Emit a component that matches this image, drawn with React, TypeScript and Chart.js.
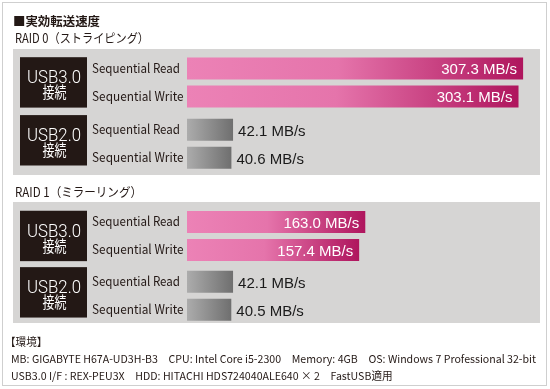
import React, { useEffect, useRef } from 'react';
import { Chart, registerables } from 'chart.js';

Chart.register(...registerables);

// ---------- data ----------
const CONNECTIONS = ['USB3.0', 'USB2.0'];
const CONNECTION_SUFFIX = '接続';
const TEST_NAMES = ['Sequential Read', 'Sequential Write'];
const RAID0_READ = [307.3, 42.1];
const RAID0_WRITE = [303.1, 40.6];
const RAID1_READ = [163.0, 42.1];
const RAID1_WRITE = [157.4, 40.5];
const X_MIN = 0;
const X_MAX = 320;
const UNIT = 'MB/s';
const TITLE = '■実効転送速度';
const RAID0_TITLE = 'RAID 0（ストライピング）';
const RAID1_TITLE = 'RAID 1（ミラーリング）';
const ENV_TITLE = '【環境】';
const ENV_LINE1 = 'MB: GIGABYTE H67A-UD3H-B3　CPU: Intel Core i5-2300　Memory: 4GB　OS: Windows 7 Professional 32-bit';
const ENV_LINE2 = 'USB3.0 I/F : REX-PEU3X　HDD: HITACHI HDS724040ALE640 × 2　FastUSB適用';

// ---------- styles ----------
const W = 550;
const H = 389;
const JP = '"Noto Sans CJK JP", "Noto Sans", sans-serif';
const SANS = '"Liberation Sans", Arial, sans-serif';
const INK = '#231815';
const PANEL = '#d6d5d4';
const TEST_LABEL_WIDTHS = [88, 91.5];

function txt(ctx: CanvasRenderingContext2D, s: string, x: number, y: number, font: string, color: string,
  align: CanvasTextAlign = 'left', scaleX = 1, baseline: CanvasTextBaseline = 'middle') {
  ctx.save();
  ctx.font = font;
  ctx.fillStyle = color;
  ctx.textAlign = align;
  ctx.textBaseline = baseline;
  ctx.translate(x, y);
  ctx.scale(scaleX, 1);
  ctx.fillText(s, 0, 0);
  ctx.restore();
}

function fit(ctx: CanvasRenderingContext2D, s: string, font: string, width: number) {
  ctx.save();
  ctx.font = font;
  const w = ctx.measureText(s).width;
  ctx.restore();
  return w ? width / w : 1;
}

function barFill(c: any) {
  const chart = c.chart;
  const xs = chart.scales && chart.scales.x;
  const v = c.raw;
  const usb3 = c.dataIndex === 0;
  if (!xs || !chart.chartArea || typeof v !== 'number') return usb3 ? '#dc5f9c' : '#8c8c8c';
  const x0 = xs.getPixelForValue(X_MIN);
  const x1 = xs.getPixelForValue(v);
  const g = chart.ctx.createLinearGradient(x0, 0, x1, 0);
  if (usb3) {
    g.addColorStop(0, '#ec82b6');
    g.addColorStop(0.45, '#e574ab');
    g.addColorStop(1, '#af155d');
  } else {
    g.addColorStop(0, '#acacac');
    g.addColorStop(1, '#6f6f6f');
  }
  return g;
}

type PanelSpec = {
  read: number[];
  write: number[];
  heading: string;
  headingY: number;
  headingWidth: number;
  panelTop: number;
  panelBottom: number;
  areaTop: number;
  areaBottom: number;
  catPct: number;
  page: boolean;
};

function drawPage(ctx: CanvasRenderingContext2D) {
  ctx.save();
  ctx.fillStyle = '#ffffff';
  ctx.fillRect(0, 0, W, H);
  ctx.strokeStyle = '#cfcfcf';
  ctx.lineWidth = 1;
  ctx.strokeRect(2.5, 2.5, 544, 383);
  ctx.restore();
  const tf = `bold 12.5px ${JP}`;
  txt(ctx, TITLE, 13, 21, tf, INK, 'left', fit(ctx, TITLE, tf, 87));
  const ef = `11px ${JP}`;
  const s = fit(ctx, ENV_LINE1, ef, 525);
  txt(ctx, ENV_TITLE, 5, 342, ef, INK, 'left', s);
  txt(ctx, ENV_LINE1, 11, 359, ef, INK, 'left', s);
  txt(ctx, ENV_LINE2, 11, 376, ef, INK, 'left', s);
}

function makeConfig(p: PanelSpec): any {
  const panelPlugin = {
    id: 'panel',
    beforeDraw(chart: any) {
      const ctx = chart.ctx as CanvasRenderingContext2D;
      if (p.page) drawPage(ctx);
      const hf = `12.5px ${JP}`;
      txt(ctx, p.heading, 15, p.headingY, hf, INK, 'left', fit(ctx, p.heading, hf, p.headingWidth));
      ctx.save();
      ctx.fillStyle = PANEL;
      ctx.fillRect(13, p.panelTop, 527, p.panelBottom - p.panelTop);
      ctx.restore();
    },
    afterDatasetsDraw(chart: any) {
      const ctx = chart.ctx as CanvasRenderingContext2D;
      const ys = chart.scales.y;
      const metas = [chart.getDatasetMeta(0), chart.getDatasetMeta(1)];
      const boxShift = [0, -3.5];
      CONNECTIONS.forEach((name, i) => {
        const cy = ys.getPixelForValue(i) + boxShift[i];
        const top = cy - 25.2;
        ctx.save();
        ctx.fillStyle = INK;
        ctx.fillRect(20, top, 67, 50.4);
        ctx.restore();
        const lf = `300 18.5px Roboto, ${SANS}`;
        txt(ctx, name, 54, top + 26, lf, '#ffffff', 'center', fit(ctx, name, lf, 54), 'alphabetic');
        const jf = `15.5px ${JP}`;
        txt(ctx, CONNECTION_SUFFIX, 54.5, top + 35, jf, '#ffffff', 'center', fit(ctx, CONNECTION_SUFFIX, jf, 24));
      });
      metas.forEach((meta: any, d: number) => {
        meta.data.forEach((el: any, i: number) => {
          const v = chart.data.datasets[d].data[i] as number;
          const tf = `13px ${JP}`;
          txt(ctx, TEST_NAMES[d], 92, el.y + 4.5, tf, INK, 'left', fit(ctx, TEST_NAMES[d], tf, TEST_LABEL_WIDTHS[d]), 'alphabetic');
          const label = `${v.toFixed(1)} ${UNIT}`;
          if (i === 0) {
            txt(ctx, label, el.x - 6, el.y + 6, `15px ${SANS}`, '#ffffff', 'right', 1, 'alphabetic');
          } else {
            txt(ctx, label, el.x + 5, el.y + 6, `15px ${SANS}`, '#1a1a1a', 'left', 1, 'alphabetic');
          }
        });
      });
    },
  };
  const ds = (label: string, data: number[]) => ({
    label,
    data,
    backgroundColor: barFill,
    borderWidth: 0,
    categoryPercentage: p.catPct,
    barPercentage: 0.786,
  });
  return {
    type: 'bar',
    data: { labels: CONNECTIONS, datasets: [ds(TEST_NAMES[0], p.read), ds(TEST_NAMES[1], p.write)] },
    options: {
      responsive: false,
      animation: false,
      events: [],
      indexAxis: 'y',
      layout: { padding: { left: 187, right: 13, top: p.areaTop, bottom: H - p.areaBottom } },
      scales: {
        x: { display: false, min: X_MIN, max: X_MAX },
        y: { display: false },
      },
      plugins: { legend: { display: false }, tooltip: { enabled: false }, title: { display: false } },
    },
    plugins: [panelPlugin],
  };
}

const PANELS: PanelSpec[] = [
  { read: RAID0_READ, write: RAID0_WRITE, heading: RAID0_TITLE, headingY: 38.5, headingWidth: 134,
    panelTop: 49, panelBottom: 175, areaTop: 51.7, areaBottom: 174.5, catPct: 0.912, page: true },
  { read: RAID1_READ, write: RAID1_WRITE, heading: RAID1_TITLE, headingY: 192.5, headingWidth: 127,
    panelTop: 202, panelBottom: 323, areaTop: 206, areaBottom: 325.8, catPct: 0.935, page: false },
];

export default function App() {
  const ref0 = useRef<HTMLCanvasElement>(null);
  const ref1 = useRef<HTMLCanvasElement>(null);
  useEffect(() => {
    const charts = [ref0, ref1].map((r, i) => new Chart(r.current as HTMLCanvasElement, makeConfig(PANELS[i])));
    return () => charts.forEach((c) => c.destroy());
  }, []);
  const cs: React.CSSProperties = { position: 'absolute', left: 0, top: 0, width: W, height: H };
  return (
    <div style={{ position: 'fixed', left: 0, top: 0, width: W, height: H, background: '#fff' }}>
      <canvas ref={ref0} width={W} height={H} style={cs} />
      <canvas ref={ref1} width={W} height={H} style={cs} />
    </div>
  );
}
